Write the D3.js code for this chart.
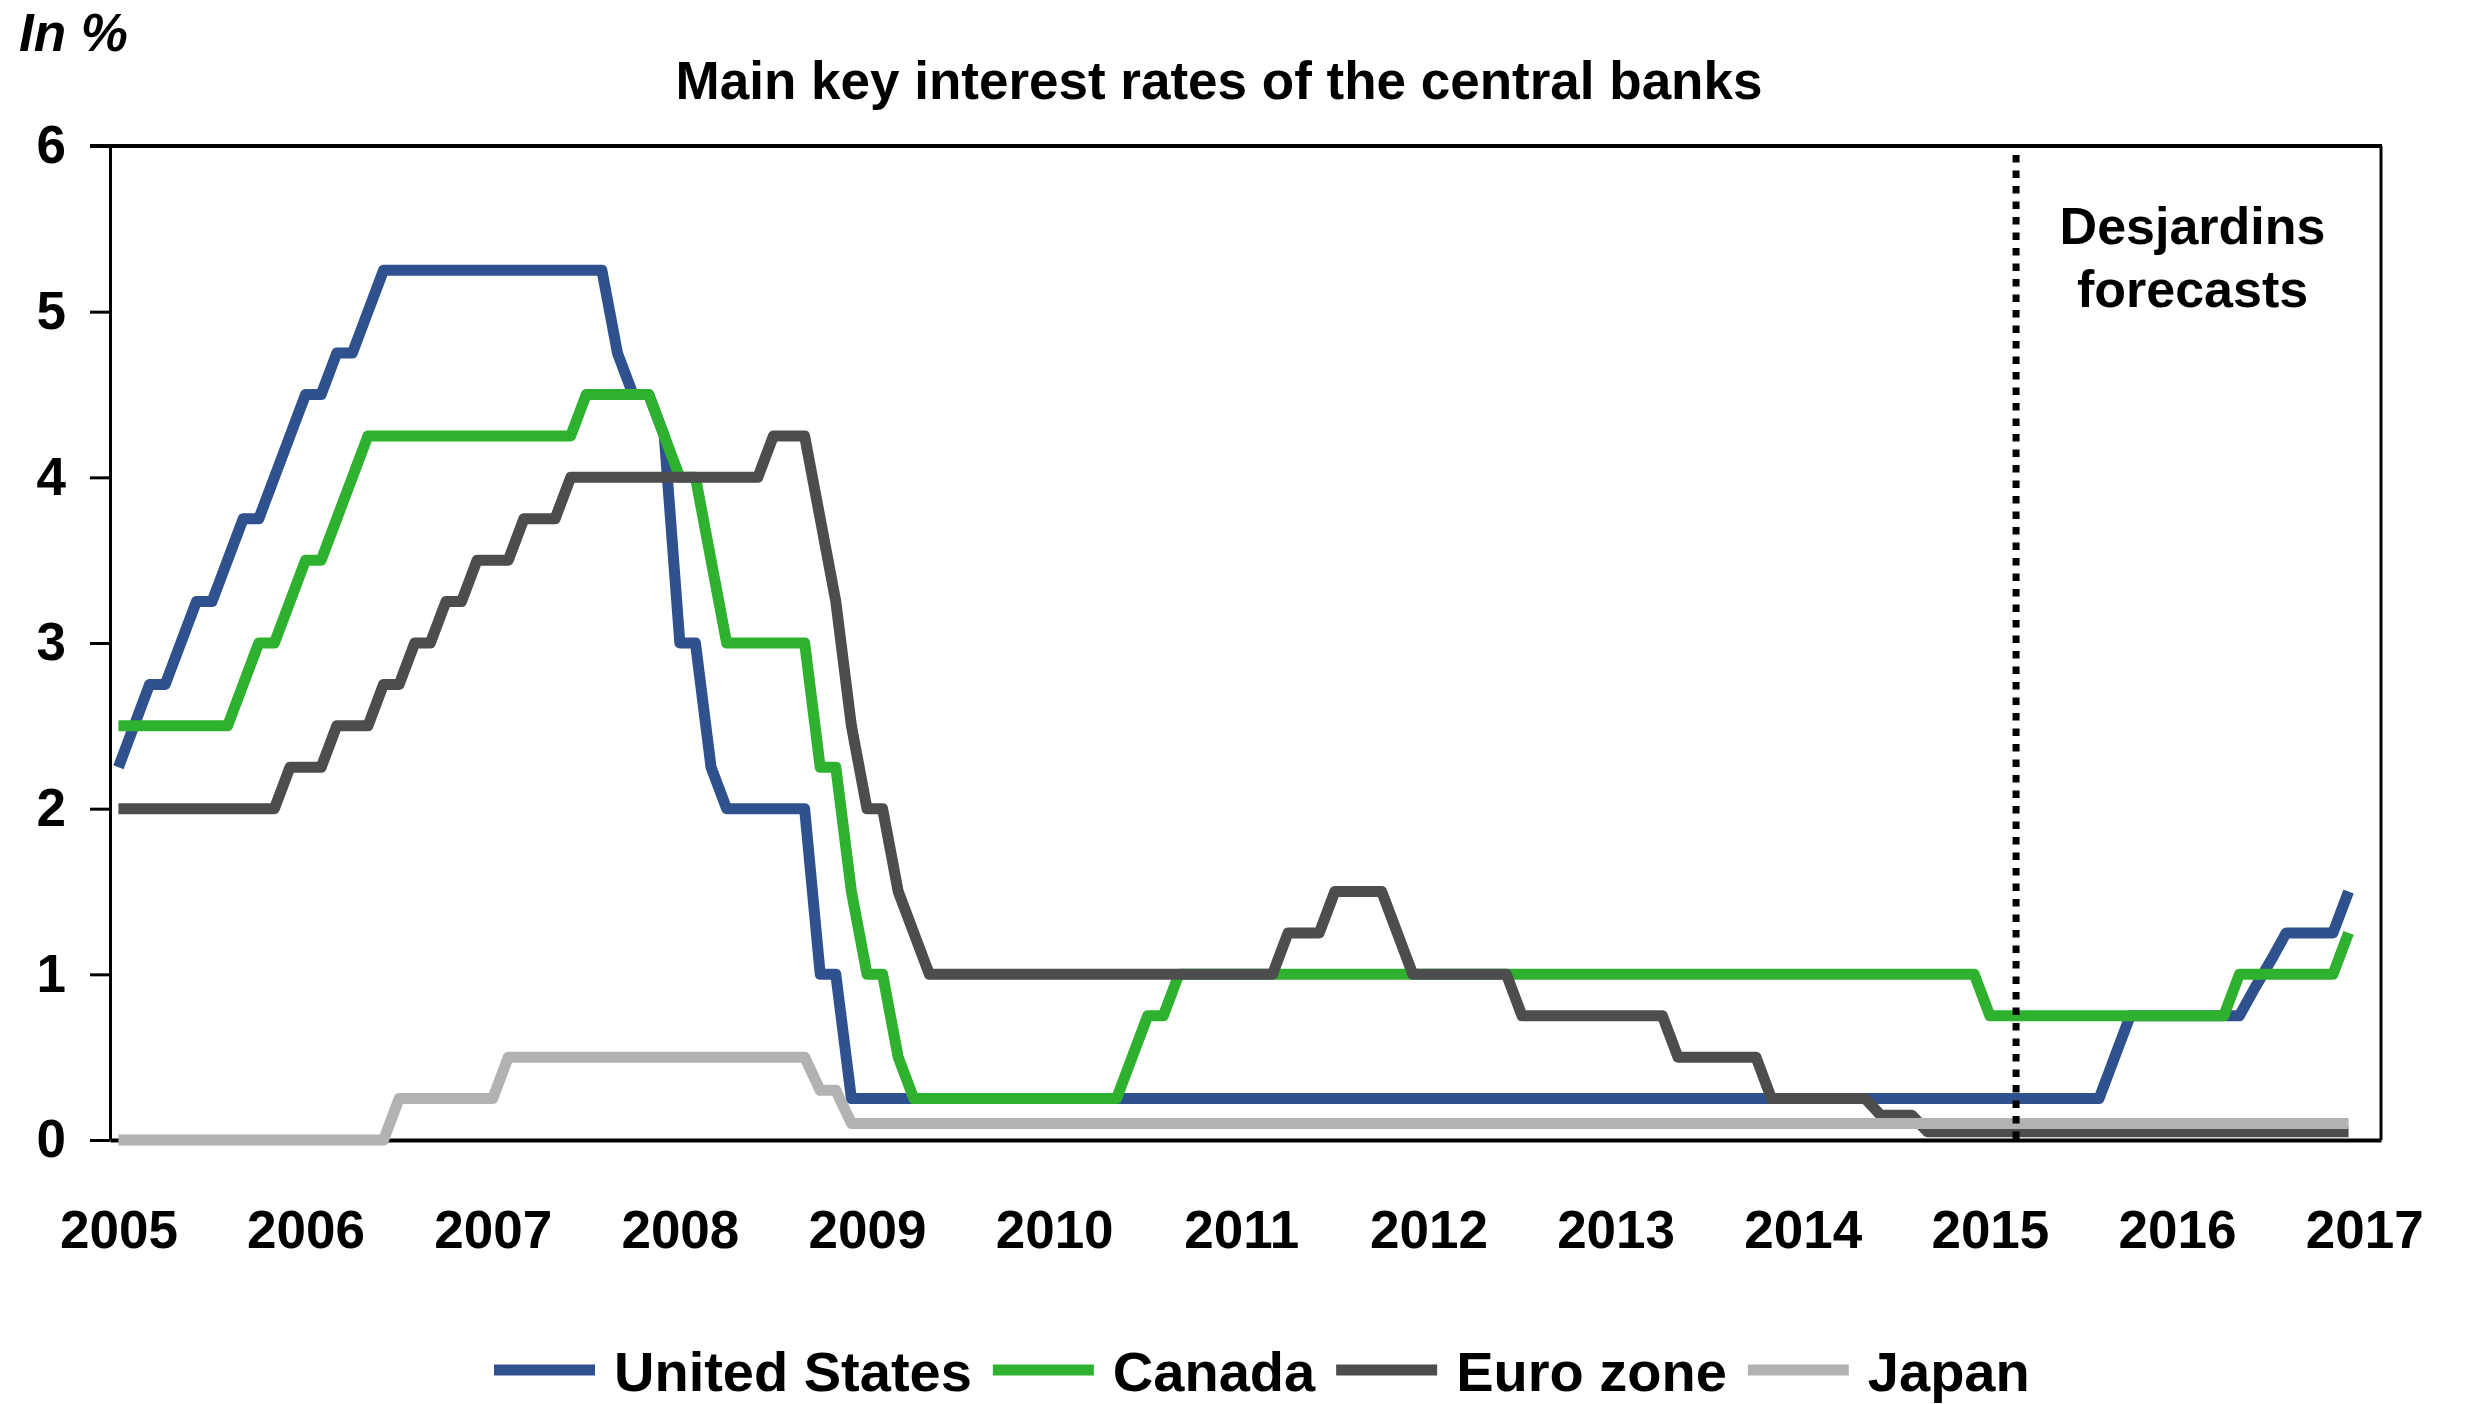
<!DOCTYPE html>
<html>
<head>
<meta charset="utf-8">
<script src="https://cdnjs.cloudflare.com/ajax/libs/d3/7.8.5/d3.min.js"></script>
<style>
  body { margin: 0; background: #fff; }
  svg { display: block; }
  text { font-family: "Liberation Sans", Arial, sans-serif; font-weight: bold; fill: #000; }
</style>
</head>
<body>
<div id="chart"></div>
<script>
// monthly policy rates (end of month), Jan 2005 .. Dec 2016, one row per year
const startYear = 2005;
const yearLabels = [2005, 2006, 2007, 2008, 2009, 2010, 2011, 2012, 2013, 2014, 2015, 2016, 2017];
const rateTicks = [0, 1, 2, 3, 4, 5, 6];
const forecastStart = 2015.14; // where the Desjardins forecasts begin

const unitedStates = [
  2.25, 2.5, 2.75, 2.75, 3.0, 3.25, 3.25, 3.5, 3.75, 3.75, 4.0, 4.25,
  4.5, 4.5, 4.75, 4.75, 5.0, 5.25, 5.25, 5.25, 5.25, 5.25, 5.25, 5.25,
  5.25, 5.25, 5.25, 5.25, 5.25, 5.25, 5.25, 5.25, 4.75, 4.5, 4.5, 4.25,
  3.0, 3.0, 2.25, 2.0, 2.0, 2.0, 2.0, 2.0, 2.0, 1.0, 1.0, 0.25,
  0.25, 0.25, 0.25, 0.25, 0.25, 0.25, 0.25, 0.25, 0.25, 0.25, 0.25, 0.25,
  0.25, 0.25, 0.25, 0.25, 0.25, 0.25, 0.25, 0.25, 0.25, 0.25, 0.25, 0.25,
  0.25, 0.25, 0.25, 0.25, 0.25, 0.25, 0.25, 0.25, 0.25, 0.25, 0.25, 0.25,
  0.25, 0.25, 0.25, 0.25, 0.25, 0.25, 0.25, 0.25, 0.25, 0.25, 0.25, 0.25,
  0.25, 0.25, 0.25, 0.25, 0.25, 0.25, 0.25, 0.25, 0.25, 0.25, 0.25, 0.25,
  0.25, 0.25, 0.25, 0.25, 0.25, 0.25, 0.25, 0.25, 0.25, 0.25, 0.25, 0.25,
  0.25, 0.25, 0.25, 0.25, 0.25, 0.25, 0.25, 0.25, 0.5, 0.75, 0.75, 0.75,
  0.75, 0.75, 0.75, 0.75, 0.75, 0.92, 1.08, 1.25, 1.25, 1.25, 1.25, 1.5
];

const canada = [
  2.5, 2.5, 2.5, 2.5, 2.5, 2.5, 2.5, 2.5, 2.75, 3.0, 3.0, 3.25,
  3.5, 3.5, 3.75, 4.0, 4.25, 4.25, 4.25, 4.25, 4.25, 4.25, 4.25, 4.25,
  4.25, 4.25, 4.25, 4.25, 4.25, 4.25, 4.5, 4.5, 4.5, 4.5, 4.5, 4.25,
  4.0, 4.0, 3.5, 3.0, 3.0, 3.0, 3.0, 3.0, 3.0, 2.25, 2.25, 1.5,
  1.0, 1.0, 0.5, 0.25, 0.25, 0.25, 0.25, 0.25, 0.25, 0.25, 0.25, 0.25,
  0.25, 0.25, 0.25, 0.25, 0.25, 0.5, 0.75, 0.75, 1.0, 1.0, 1.0, 1.0,
  1.0, 1.0, 1.0, 1.0, 1.0, 1.0, 1.0, 1.0, 1.0, 1.0, 1.0, 1.0,
  1.0, 1.0, 1.0, 1.0, 1.0, 1.0, 1.0, 1.0, 1.0, 1.0, 1.0, 1.0,
  1.0, 1.0, 1.0, 1.0, 1.0, 1.0, 1.0, 1.0, 1.0, 1.0, 1.0, 1.0,
  1.0, 1.0, 1.0, 1.0, 1.0, 1.0, 1.0, 1.0, 1.0, 1.0, 1.0, 1.0,
  0.75, 0.75, 0.75, 0.75, 0.75, 0.75, 0.75, 0.75, 0.75, 0.75, 0.75, 0.75,
  0.75, 0.75, 0.75, 0.75, 1.0, 1.0, 1.0, 1.0, 1.0, 1.0, 1.0, 1.25
];

const euroZone = [
  2.0, 2.0, 2.0, 2.0, 2.0, 2.0, 2.0, 2.0, 2.0, 2.0, 2.0, 2.25,
  2.25, 2.25, 2.5, 2.5, 2.5, 2.75, 2.75, 3.0, 3.0, 3.25, 3.25, 3.5,
  3.5, 3.5, 3.75, 3.75, 3.75, 4.0, 4.0, 4.0, 4.0, 4.0, 4.0, 4.0,
  4.0, 4.0, 4.0, 4.0, 4.0, 4.0, 4.25, 4.25, 4.25, 3.75, 3.25, 2.5,
  2.0, 2.0, 1.5, 1.25, 1.0, 1.0, 1.0, 1.0, 1.0, 1.0, 1.0, 1.0,
  1.0, 1.0, 1.0, 1.0, 1.0, 1.0, 1.0, 1.0, 1.0, 1.0, 1.0, 1.0,
  1.0, 1.0, 1.0, 1.25, 1.25, 1.25, 1.5, 1.5, 1.5, 1.5, 1.25, 1.0,
  1.0, 1.0, 1.0, 1.0, 1.0, 1.0, 0.75, 0.75, 0.75, 0.75, 0.75, 0.75,
  0.75, 0.75, 0.75, 0.75, 0.5, 0.5, 0.5, 0.5, 0.5, 0.5, 0.25, 0.25,
  0.25, 0.25, 0.25, 0.25, 0.25, 0.15, 0.15, 0.15, 0.05, 0.05, 0.05, 0.05,
  0.05, 0.05, 0.05, 0.05, 0.05, 0.05, 0.05, 0.05, 0.05, 0.05, 0.05, 0.05,
  0.05, 0.05, 0.05, 0.05, 0.05, 0.05, 0.05, 0.05, 0.05, 0.05, 0.05, 0.05
];

const japan = [
  0, 0, 0, 0, 0, 0, 0, 0, 0, 0, 0, 0,
  0, 0, 0, 0, 0, 0, 0.25, 0.25, 0.25, 0.25, 0.25, 0.25,
  0.25, 0.5, 0.5, 0.5, 0.5, 0.5, 0.5, 0.5, 0.5, 0.5, 0.5, 0.5,
  0.5, 0.5, 0.5, 0.5, 0.5, 0.5, 0.5, 0.5, 0.5, 0.3, 0.3, 0.1,
  0.1, 0.1, 0.1, 0.1, 0.1, 0.1, 0.1, 0.1, 0.1, 0.1, 0.1, 0.1,
  0.1, 0.1, 0.1, 0.1, 0.1, 0.1, 0.1, 0.1, 0.1, 0.1, 0.1, 0.1,
  0.1, 0.1, 0.1, 0.1, 0.1, 0.1, 0.1, 0.1, 0.1, 0.1, 0.1, 0.1,
  0.1, 0.1, 0.1, 0.1, 0.1, 0.1, 0.1, 0.1, 0.1, 0.1, 0.1, 0.1,
  0.1, 0.1, 0.1, 0.1, 0.1, 0.1, 0.1, 0.1, 0.1, 0.1, 0.1, 0.1,
  0.1, 0.1, 0.1, 0.1, 0.1, 0.1, 0.1, 0.1, 0.1, 0.1, 0.1, 0.1,
  0.1, 0.1, 0.1, 0.1, 0.1, 0.1, 0.1, 0.1, 0.1, 0.1, 0.1, 0.1,
  0.1, 0.1, 0.1, 0.1, 0.1, 0.1, 0.1, 0.1, 0.1, 0.1, 0.1, 0.1
];

const seriesNames = ["United States", "Canada", "Euro zone", "Japan"];
const seriesColors = ["#2f528f", "#2eb12e", "#4d4d4d", "#b2b2b2"];
const seriesValues = [unitedStates, canada, euroZone, japan];

const width = 2466, height = 1404;

const svg = d3.select("#chart").append("svg")
    .attr("width", width)
    .attr("height", height);

// x is in fractional years, so month i sits at startYear + i/12
const x = d3.scaleLinear().domain([2004.955, 2017.09]).range([110, 2381]);
const y = d3.scaleLinear().domain([0, 6]).range([1140, 146]);

// y axis with outside ticks
const yAxis = svg.append("g")
    .attr("transform", `translate(${x.range()[0]},0)`)
    .call(d3.axisLeft(y).tickValues(rateTicks).tickSize(20).tickSizeOuter(0)
        .tickPadding(24).tickFormat(d3.format("d")));
yAxis.select(".domain").attr("stroke", "#000").attr("stroke-width", 3);
yAxis.selectAll(".tick line").attr("stroke", "#000").attr("stroke-width", 3);
yAxis.selectAll(".tick text")
    .attr("font-size", 53)
    .attr("font-family", "Liberation Sans, Arial, sans-serif")
    .attr("font-weight", "bold");

// top and right frame lines
svg.append("line")
    .attr("x1", x.range()[0] - 20).attr("x2", x.range()[1] + 1)
    .attr("y1", y(6)).attr("y2", y(6))
    .attr("stroke", "#000").attr("stroke-width", 4);
svg.append("line")
    .attr("x1", x.range()[1]).attr("x2", x.range()[1])
    .attr("y1", y(6)).attr("y2", y(0))
    .attr("stroke", "#000").attr("stroke-width", 3);

// x axis: year labels only, no ticks
const xAxis = svg.append("g")
    .attr("transform", `translate(0,${y(0)})`)
    .call(d3.axisBottom(x).tickValues(yearLabels).tickSize(0).tickSizeOuter(0)
        .tickPadding(70).tickFormat(d3.format("d")));
xAxis.select(".domain").attr("stroke", "#000").attr("stroke-width", 4);
xAxis.selectAll(".tick text")
    .attr("font-size", 53)
    .attr("font-family", "Liberation Sans, Arial, sans-serif")
    .attr("font-weight", "bold");

// the four lines, drawn in order so Japan ends up on top
const line = d3.line()
    .x((d, i) => x(startYear + i / 12))
    .y(d => y(d));

svg.append("g").attr("class", "lines")
    .selectAll("path")
    .data(seriesValues)
    .join("path")
    .attr("d", line)
    .attr("fill", "none")
    .attr("stroke", (d, i) => seriesColors[i])
    .attr("stroke-width", 11)
    .attr("stroke-linejoin", "round")
    .attr("stroke-linecap", "butt");

// forecast divider
svg.append("line")
    .attr("x1", x(forecastStart)).attr("x2", x(forecastStart))
    .attr("y1", y(6) + 9).attr("y2", y(0))
    .attr("stroke", "#000").attr("stroke-width", 7)
    .attr("stroke-dasharray", "7.5 8");

const noteX = (x(forecastStart) + x.range()[1]) / 2 - 6;
svg.append("text")
    .attr("x", noteX).attr("y", 244)
    .attr("text-anchor", "middle").attr("font-size", 52)
    .text("Desjardins");
svg.append("text")
    .attr("x", noteX).attr("y", 307)
    .attr("text-anchor", "middle").attr("font-size", 52)
    .text("forecasts");

// titles
svg.append("text")
    .attr("x", 19).attr("y", 51)
    .attr("font-size", 53).attr("font-style", "italic")
    .text("In %");
svg.append("text")
    .attr("x", 1219).attr("y", 99)
    .attr("text-anchor", "middle").attr("font-size", 53)
    .text("Main key interest rates of the central banks");

// legend along the bottom, laid out from measured text widths
const legend = svg.append("g").attr("class", "legend");
let lx = 494;
seriesNames.forEach(function(name, i) {
    legend.append("line")
        .attr("x1", lx).attr("x2", lx + 101)
        .attr("y1", 1370).attr("y2", 1370)
        .attr("stroke", seriesColors[i]).attr("stroke-width", 11);
    const t = legend.append("text")
        .attr("x", lx + 120).attr("y", 1391)
        .attr("font-size", 56)
        .text(name);
    lx += 120 + t.node().getComputedTextLength() + 21;
});
</script>
</body>
</html>
